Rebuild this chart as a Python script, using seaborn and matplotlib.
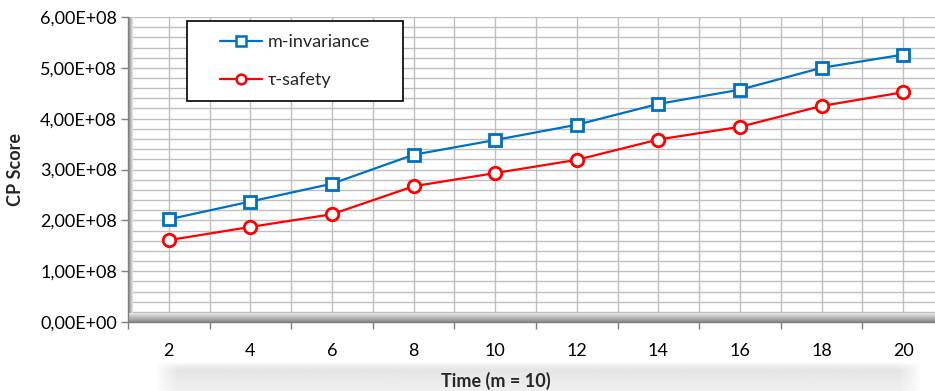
import numpy as np
import pandas as pd
import matplotlib
matplotlib.use("Agg")
import matplotlib.pyplot as plt
import seaborn as sns
from matplotlib.ticker import FuncFormatter, MultipleLocator
from matplotlib.lines import Line2D
from matplotlib.patches import Rectangle

# ---- data ----
time_points = [2, 4, 6, 8, 10, 12, 14, 16, 18, 20]
m_invariance = [2.02e8, 2.37e8, 2.72e8, 3.29e8, 3.58e8, 3.88e8, 4.29e8, 4.57e8, 5.00e8, 5.26e8]
tau_safety = [1.61e8, 1.87e8, 2.12e8, 2.67e8, 2.93e8, 3.19e8, 3.59e8, 3.84e8, 4.25e8, 4.52e8]
series_names = ["m-invariance", "τ-safety"]
y_tick_values = [0, 1e8, 2e8, 3e8, 4e8, 5e8, 6e8]
x_label = "Time (m = 10)"
y_label = "CP Score"

df = pd.DataFrame({
    "time": time_points * 2,
    "score": m_invariance + tau_safety,
    "series": [series_names[0]] * len(time_points) + [series_names[1]] * len(time_points),
})

sns.set_theme(style="white")
plt.rcParams["font.family"] = ["Lato", "DejaVu Sans"]

W, H = 935, 391
fig = plt.figure(figsize=(W / 100, H / 100), dpi=100)

# soft gradient box behind x label
bx0, bx1, by0, by1 = 155, 922, 0, 29
bx = fig.add_axes([bx0 / W, by0 / H, (bx1 - bx0) / W, (by1 - by0) / H], zorder=0)
nx, ny = 500, 60
xx = np.linspace(0, 1, nx)
yy = np.linspace(0, 1, ny)  # 0 = top row
X, Y = np.meshgrid(xx, yy)
bw, bh = bx1 - bx0, by1 - by0
fx = np.clip(np.minimum(X * bw, (1 - X) * bw) / 22.0, 0, 1)
fy = np.clip(Y * bh / 8.0, 0, 1)
edge = (fx * fy) ** 0.8
inner = 0.88 + 0.06 * Y
val = 1 - (1 - inner) * edge
bx.imshow(val, cmap="gray", vmin=0, vmax=1, aspect="auto", origin="upper",
          extent=[0, 1, 0, 1], interpolation="bilinear")
bx.set_axis_off()

left, bottom = 128 / W, 1 - 322 / H
top = 1 - 17 / H
ax = fig.add_axes([left, bottom, 816 / W, top - bottom], zorder=1)
ax.patch.set_alpha(0)

palette = {series_names[0]: "#0070C0", series_names[1]: "#FF0000"}
markers = {series_names[0]: "s", series_names[1]: "o"}
sns.lineplot(data=df, x="time", y="score", hue="series", style="series",
             palette=palette, markers=markers, dashes=False, ax=ax,
             linewidth=1.6, markersize=9, markeredgewidth=1.9,
             legend=False, zorder=5)
for ln in ax.lines:
    ln.set_markerfacecolor("white")
    ln.set_markeredgecolor(ln.get_color())
    ln.set_markeredgewidth(2.0)

ax.set_xlim(1, 21)
ax.set_ylim(0, 6e8)
ax.set_xticks(time_points)
ax.set_xticks(list(range(1, 22, 2)), minor=True)
ax.xaxis.set_major_formatter(FuncFormatter(lambda v, p: f"{int(v)}"))
ax.set_yticks(y_tick_values)
ax.yaxis.set_minor_locator(MultipleLocator(2e7))


def sci_fmt(v, p):
    if v == 0:
        return "0,00E+00"
    return f"{v:.2E}".replace(".", ",")


ax.yaxis.set_major_formatter(FuncFormatter(sci_fmt))

# gridlines at every integer (category centres + boundaries)
for xv in range(1, 22):
    ax.axvline(xv, color="#BFBFBF", lw=1.0, zorder=1)
for yv in np.arange(0, 6e8 + 1, 2e7):
    ax.axhline(yv, color="#BFBFBF", lw=1.0, zorder=1)

# 3D-ish wall and floor
wall = np.linspace(0.5, 0.9, 20).reshape(1, -1)
ax.imshow(wall, cmap="gray", vmin=0, vmax=1, aspect="auto",
          extent=[0, 5 / 816, 0, 1], transform=ax.transAxes, zorder=2,
          interpolation="bilinear")
floor = np.linspace(0.55, 0.9, 20).reshape(-1, 1)
ax.imshow(floor, cmap="gray", vmin=0, vmax=1, aspect="auto", origin="lower",
          extent=[0, 1, 0, 9 / 305], transform=ax.transAxes, zorder=2,
          interpolation="bilinear")
ax.set_xlim(1, 21)
ax.set_ylim(0, 6e8)

for s in ["top", "right"]:
    ax.spines[s].set_visible(False)
ax.spines["left"].set_color("#7F7F7F")
ax.spines["bottom"].set_color("#7F7F7F")
ax.spines["left"].set_linewidth(1.0)
ax.spines["bottom"].set_linewidth(1.0)

ax.tick_params(axis="y", which="major", direction="out", length=5, width=1,
               color="#7F7F7F", labelsize=13, pad=3, left=True)
ax.tick_params(axis="y", which="minor", left=False)
ax.tick_params(axis="x", which="major", length=0, labelsize=13, pad=15)
ax.tick_params(axis="x", which="minor", direction="out", length=5, width=1,
               color="#7F7F7F", bottom=True)
for t in ax.get_xticklabels() + ax.get_yticklabels():
    t.set_color("#000000")

ax.set_xlabel(x_label, fontsize=13, fontweight="bold", va="center")
ax.xaxis.set_label_coords((496 - 128) / 816, -(381 - 322) / 305)
ax.set_ylabel(y_label, fontsize=13, fontweight="bold", va="center")
ax.yaxis.set_label_coords(-(128 - 15) / 816, 0.5)

handles = [
    Line2D([], [], color=palette[series_names[0]], marker="s", markersize=7,
           markerfacecolor="white", markeredgewidth=1.8, lw=1.6),
    Line2D([], [], color=palette[series_names[1]], marker="o", markersize=7,
           markerfacecolor="white", markeredgewidth=1.8, lw=1.6),
]
leg = ax.legend(handles, series_names, loc="upper left",
                bbox_to_anchor=((220 - 128) / 816, 1 - (34 - 17) / 305),
                frameon=False, fontsize=13,
                handlelength=2.3, handletextpad=0.35, labelspacing=1.22,
                borderpad=0.0, borderaxespad=0)
leg.set_zorder(10)

fig.canvas.draw()
bb = leg.get_window_extent()
padx, pad_top, pad_bot = 33, 13, 13
rect = Rectangle((bb.x0 - padx, bb.y0 - pad_bot), bb.width + 2 * padx,
                 bb.height + pad_top + pad_bot,
                 transform=None, facecolor="white", edgecolor="black", lw=1.2, zorder=9)
ax.add_artist(rect)

fig.savefig("out.png", dpi=100)
